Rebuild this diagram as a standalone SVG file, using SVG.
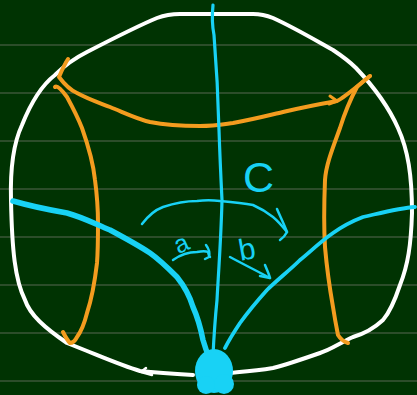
<svg xmlns="http://www.w3.org/2000/svg" width="417" height="395" viewBox="0 0 417 395">
<style>
.rule{stroke:#2c4d2a;stroke-width:2;}
.s{fill:none;stroke-linecap:round;stroke-linejoin:round;}
.w{stroke:#ffffff;stroke-width:4;}
.o{stroke:#f39c1f;stroke-width:4;}
.b{stroke:#18d2f5;}
.lbl{font-family:"Liberation Sans",sans-serif;fill:#18d2f5;}
</style>
<rect width="417" height="395" fill="#003302"/>
<g id="rules">
<line class="rule" x1="0" y1="45" x2="417" y2="45"/>
<line class="rule" x1="0" y1="93" x2="417" y2="93"/>
<line class="rule" x1="0" y1="141" x2="417" y2="141"/>
<line class="rule" x1="0" y1="189" x2="417" y2="189"/>
<line class="rule" x1="0" y1="237" x2="417" y2="237"/>
<line class="rule" x1="0" y1="285" x2="417" y2="285"/>
<line class="rule" x1="0" y1="333" x2="417" y2="333"/>
<line class="rule" x1="0" y1="381" x2="417" y2="381"/>
</g>
<g id="outline">
<path class="s w" d="M193,375 C160,373 150,372 140,371 C120,365 105,358 67,343 C45,328 30,315 25,300 C15,280 12,250 11,200 C10,165 15,140 22,125 C32,100 42,85 55,75 C65,65 75,58 87,52 C120,35 140,25 157,18 C165,15 175,14 180,14 L253,14 C262,14 268,16 273,18 C295,28 315,40 333,50 C345,58 350,62 356,68 C375,88 390,110 398,128 C408,150 412,175 412,213 C411,245 408,265 400,285 C395,300 390,312 383,320 C370,332 360,335 353,337 C340,343 330,350 320,353 C300,360 285,365 273,368 C255,371 240,372 230,373"/>
<path class="s w" d="M152,375 L141,372 L146,368" style="stroke-width:2.5"/>
</g>
<g id="orange">
<path class="s o" d="M68,59 C66,62 62,70 59,77 C65,85 70,90 77,93 C90,100 100,103 110,107 C125,113 137,119 150,122 C170,126 185,126 200,126 C215,126 225,124 233,123 C255,119 270,115 283,112 C300,108 320,104 337,101 C345,97 355,88 370,76"/>
<path class="s o" d="M330,96 L337,101 L329,104" style="stroke-width:3"/>
<path class="s o" d="M370,76 C365,80 360,84 357,87 C350,100 345,112 340,128 C332,150 326,165 325,180 C324,205 324,230 325,247 C327,270 330,290 333,307 C335,320 337,330 338,335 C341,340 345,342 348,343"/>
<path class="s o" d="M55,87 C57,85 62,90 67,97 C73,108 78,118 82,128 C88,145 93,160 95,180 C97,195 98,210 98,223 C98,238 98,250 97,263 C95,280 92,298 87,313 C84,325 80,333 77,337 C75,341 72,343 70,343 C67,340 65,336 63,332"/>
</g>
<g id="blue">
<path class="s b" style="stroke-width:3.2" d="M213,5 C212,15 212,25 214,35 C216,60 218,90 219,130 C220,160 221,180 222,200 C221,240 218,280 217,300 C215,320 214,335 213,355"/>
<path class="s b" style="stroke-width:5.5" d="M13,201 C30,206 50,210 67,213 C85,218 97,225 110,230 C125,238 138,245 150,253 C160,260 170,270 177,277 C185,287 190,297 193,307 C198,318 201,330 203,340 C205,346 206,350 207,352"/>
<path class="s b" style="stroke-width:3.8" d="M415,207 C400,208 385,212 363,217 C350,222 340,228 333,233 C320,242 310,252 300,260 C290,270 277,280 267,290 C258,300 248,312 240,323 C234,332 229,340 225,348"/>
<ellipse cx="214" cy="371" rx="19" ry="22" fill="#18d2f5"/>
<circle cx="206" cy="385" r="9" fill="#18d2f5"/>
<circle cx="224" cy="384" r="10" fill="#18d2f5"/>
</g>
<g id="arrows">
<path class="s b" style="stroke-width:2.5" d="M142,224 C148,216 155,210 163,207 C175,203 185,201 197,201 C205,200 212,200 220,201 C232,202 243,203 253,205 C262,209 268,213 273,217 C279,222 283,227 287,232"/>
<path class="s b" style="stroke-width:2.5" d="M277,209 C280,216 284,224 287,232 C285,236 283,238 280,240"/>
<path class="s b" style="stroke-width:2.5" d="M173,260 C180,255 188,252 197,252 C202,251 206,251 208,252 C209,255 209,257 210,257"/>
<path class="s b" style="stroke-width:2.5" d="M206,245 C209,249 210,253 209,257 L205,259"/>
<path class="s b" style="stroke-width:2.5" d="M230,257 C243,264 257,271 270,278"/>
<path class="s b" style="stroke-width:2.5" d="M265,265 C267,270 269,274 270,278 L260,276"/>
</g>
<g id="labels">
<text class="lbl" x="243" y="192" font-size="43">C</text>
<text class="lbl" x="174" y="250" font-size="25" transform="rotate(-25 186 242)">a</text>
<text class="lbl" x="238" y="259" font-size="30" transform="rotate(-10 249 245)">b</text>
</g>
</svg>
